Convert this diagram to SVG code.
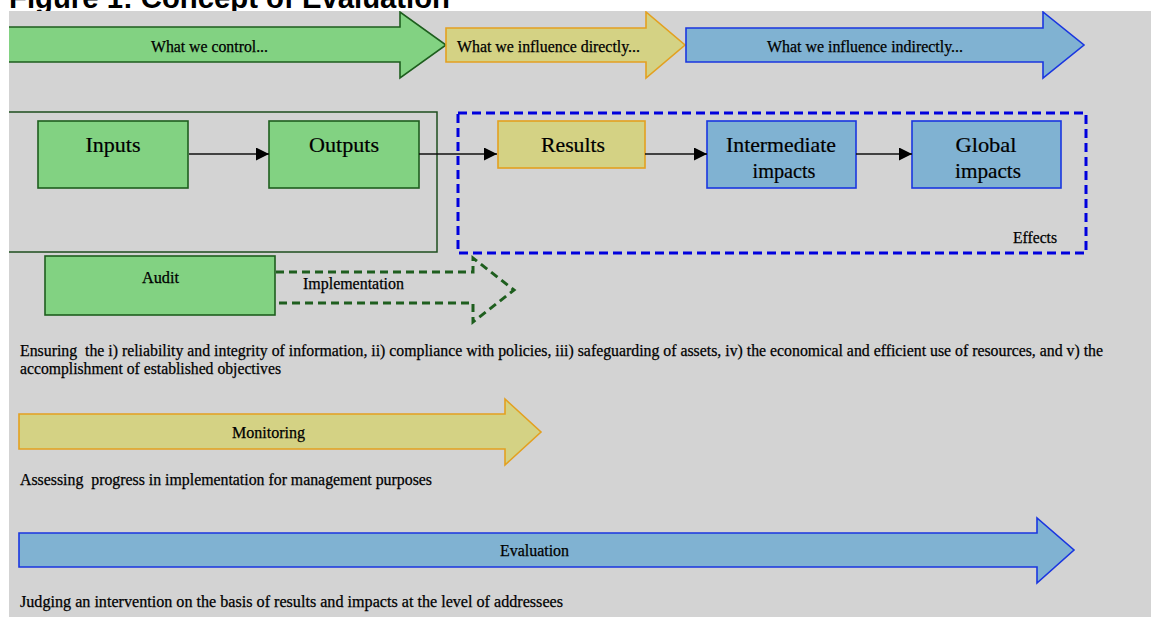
<svg xmlns="http://www.w3.org/2000/svg" width="1151" height="617" viewBox="0 0 1151 617">
  <style>
    .title { font-family: "Liberation Sans", Arial, sans-serif; font-weight: bold; font-size: 29px; fill: #000; }
    .lbl { font-family: "Liberation Serif", "Times New Roman", serif; font-size: 16px; fill: #000; stroke: #000; stroke-width: 0.25; }
    .box-lbl { font-family: "Liberation Serif", "Times New Roman", serif; font-size: 21px; fill: #000; stroke: #000; stroke-width: 0.2; text-anchor: middle; }
    .green { fill: #82d282; stroke: #1e5e1e; stroke-width: 1.6; }
    .yellow { fill: #d4d284; stroke: #e3a020; stroke-width: 1.6; }
    .blue { fill: #80b2d2; stroke: #1a36e0; stroke-width: 1.6; }
    .conn { stroke: #111; stroke-width: 1.6; fill: none; }
  </style>
  <defs>
    <marker id="head" viewBox="0 0 10 10" refX="10" refY="5" markerUnits="userSpaceOnUse" markerWidth="13" markerHeight="13" orient="auto">
      <path d="M0,0 L10,5 L0,10 Z" fill="#000"/>
    </marker>
    <clipPath id="panelClip">
      <rect x="9" y="11" width="1142" height="606"/>
    </clipPath>
  </defs>

  <rect width="1151" height="617" fill="#fff"/>
  <text class="title" x="9" y="8" textLength="441" lengthAdjust="spacingAndGlyphs">Figure 1: Concept of Evaluation</text>

  <!-- background panel -->
  <rect x="9" y="11" width="1142" height="606" fill="#d3d3d3"/>

  <g clip-path="url(#panelClip)">
    <!-- top band arrows -->
    <g id="band-control">
      <path class="green" d="M4,27 H400 V12 L446,45 L400,78 V62 H4 Z"/>
      <text class="lbl" x="151" y="52" textLength="117" lengthAdjust="spacingAndGlyphs">What we control...</text>
    </g>
    <g id="band-direct">
      <path class="yellow" d="M446,28 H646 V12 L685,45 L646,78 V62 H446 Z"/>
      <text class="lbl" x="457" y="52" textLength="183" lengthAdjust="spacingAndGlyphs">What we influence directly...</text>
    </g>
    <g id="band-indirect">
      <path class="blue" d="M686,28 H1043 V12 L1084,45 L1043,78 V62 H686 Z"/>
      <text class="lbl" x="767" y="52" textLength="196" lengthAdjust="spacingAndGlyphs">What we influence indirectly...</text>
    </g>

    <!-- frame around the controlled stages -->
    <g id="control-frame">
      <rect x="3" y="112" width="434" height="140" fill="none" stroke="#1e4e1e" stroke-width="1.5"/>
    </g>
  </g>

  <!-- effects frame -->
  <g id="effects-frame">
    <rect x="458" y="113" width="628" height="140" fill="none" stroke="#0000dd" stroke-width="3" stroke-dasharray="9 5"/>
    <text class="lbl" x="1013" y="243" font-size="14" textLength="44" lengthAdjust="spacingAndGlyphs">Effects</text>
  </g>

  <!-- chain nodes -->
  <g id="inputs">
    <rect class="green" x="38" y="121" width="150" height="67"/>
    <text class="box-lbl" x="113" y="152" textLength="55" lengthAdjust="spacingAndGlyphs">Inputs</text>
  </g>
  <g id="outputs">
    <rect class="green" x="269" y="121" width="150" height="67"/>
    <text class="box-lbl" x="344" y="152" textLength="70" lengthAdjust="spacingAndGlyphs">Outputs</text>
  </g>
  <g id="results">
    <rect class="yellow" x="498" y="121" width="147" height="47"/>
    <text class="box-lbl" x="573" y="152" textLength="64" lengthAdjust="spacingAndGlyphs">Results</text>
  </g>
  <g id="intermediate-impacts">
    <rect class="blue" x="707" y="121" width="149" height="67"/>
    <text class="box-lbl" x="781" y="152" textLength="110" lengthAdjust="spacingAndGlyphs">Intermediate</text>
    <text class="box-lbl" x="784" y="178" textLength="63" lengthAdjust="spacingAndGlyphs">impacts</text>
  </g>
  <g id="global-impacts">
    <rect class="blue" x="912" y="121" width="149" height="67"/>
    <text class="box-lbl" x="986" y="152" textLength="61" lengthAdjust="spacingAndGlyphs">Global</text>
    <text class="box-lbl" x="988" y="178" textLength="66" lengthAdjust="spacingAndGlyphs">impacts</text>
  </g>

  <!-- connectors -->
  <g id="connectors">
    <line class="conn" x1="189" y1="154" x2="269" y2="154" stroke="#1e3e1e" marker-end="url(#head)"/>
    <line class="conn" x1="419" y1="154" x2="497" y2="154" marker-end="url(#head)"/>
    <line class="conn" x1="645" y1="154" x2="707" y2="154" marker-end="url(#head)"/>
    <line class="conn" x1="856" y1="154" x2="912" y2="154" marker-end="url(#head)"/>
  </g>

  <!-- audit -->
  <g id="audit">
    <rect class="green" x="45" y="256" width="230" height="59"/>
    <text class="lbl" x="142" y="283" font-size="15" textLength="37" lengthAdjust="spacingAndGlyphs">Audit</text>
  </g>
  <g id="implementation">
    <path d="M276,272 H473 V258 L514,290 L473,322 V303 H276" fill="none" stroke="#1e5e1e" stroke-width="3" stroke-dasharray="8 5"/>
    <text class="lbl" x="303" y="289" font-size="15" textLength="101" lengthAdjust="spacingAndGlyphs">Implementation</text>
  </g>
  <g id="audit-desc">
    <text class="lbl" x="20" y="356" xml:space="preserve" textLength="1083" lengthAdjust="spacingAndGlyphs">Ensuring  the i) reliability and integrity of information, ii) compliance with policies, iii) safeguarding of assets, iv) the economical and efficient use of resources, and v) the</text>
    <text class="lbl" x="20" y="374" textLength="261" lengthAdjust="spacingAndGlyphs">accomplishment of established objectives</text>
  </g>

  <!-- monitoring -->
  <g id="monitoring">
    <path class="yellow" d="M19,414 H505 V399 L541,432 L505,465 V449 H19 Z"/>
    <text class="lbl" x="232" y="438" textLength="73" lengthAdjust="spacingAndGlyphs">Monitoring</text>
    <text class="lbl" x="20" y="485" xml:space="preserve" textLength="412" lengthAdjust="spacingAndGlyphs">Assessing  progress in implementation for management purposes</text>
  </g>

  <!-- evaluation -->
  <g id="evaluation">
    <path class="blue" d="M19,533 H1037 V518 L1074,550 L1037,583 V567 H19 Z"/>
    <text class="lbl" x="500" y="556" textLength="69" lengthAdjust="spacingAndGlyphs">Evaluation</text>
    <text class="lbl" x="20" y="607" textLength="543" lengthAdjust="spacingAndGlyphs">Judging an intervention on the basis of results and impacts at the level of addressees</text>
  </g>
</svg>
